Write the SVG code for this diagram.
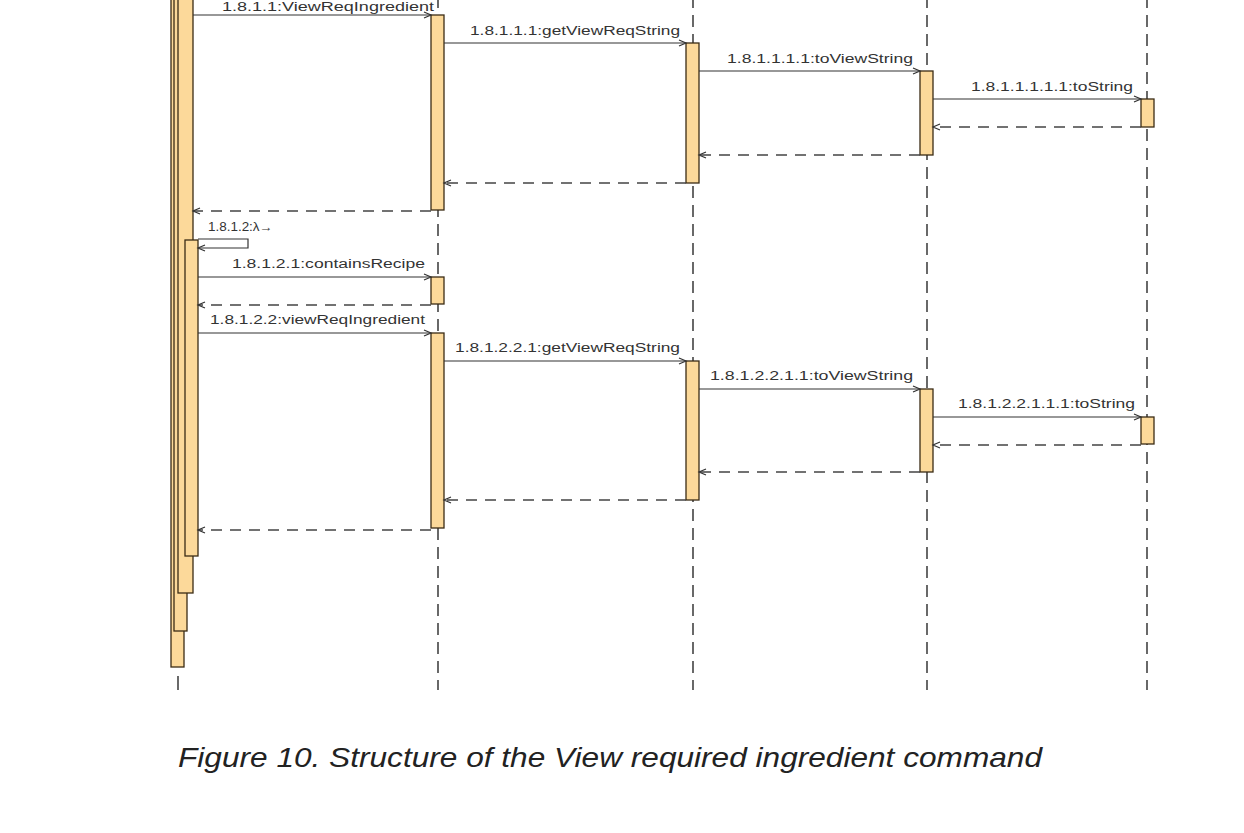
<svg xmlns="http://www.w3.org/2000/svg" width="1244" height="833" viewBox="0 0 1244 833">
<style>
.life{stroke:#444;stroke-width:1.6;stroke-dasharray:12,7;fill:none}
.act{fill:#fcd99a;stroke:#3b2c14;stroke-width:1.3}
.msg{stroke:#333;stroke-width:1.2;fill:none;marker-end:url(#open)}
.ret{stroke:#444;stroke-width:1.4;stroke-dasharray:11,8;fill:none;marker-end:url(#open)}
.lbl{font-family:"Liberation Sans",Arial,sans-serif;font-size:12px;fill:#333}
.cap{font-family:"Liberation Sans",Arial,sans-serif;font-size:28px;font-style:italic;fill:#222}
</style>
<defs>
<marker id="open" markerWidth="10" markerHeight="10" refX="8" refY="4" orient="auto" markerUnits="userSpaceOnUse">
<polyline points="1,1 8,4 1,7" fill="none" stroke="#333" stroke-width="1.2"/>
</marker>
</defs>
<rect width="1244" height="833" fill="#fff"/>
<g id="lifeline-1">
<line x1="178" y1="676" x2="178" y2="690" stroke="#444" stroke-width="1.6"/>
<rect class="act" x="171" y="-5" width="13" height="672"/>
<rect class="act" x="174" y="-5" width="13" height="636"/>
<rect class="act" x="178" y="-5" width="15" height="598"/>
<rect class="act" x="185" y="240" width="13" height="316"/>
</g>
<g id="lifeline-2">
<line class="life" x1="438" y1="-4" x2="438" y2="690"/>
<rect class="act" x="431" y="15" width="13" height="195"/>
<rect class="act" x="431" y="277" width="13" height="27"/>
<rect class="act" x="431" y="333" width="13" height="195"/>
</g>
<g id="lifeline-3">
<line class="life" x1="693" y1="-4" x2="693" y2="690"/>
<rect class="act" x="686" y="43" width="13" height="140"/>
<rect class="act" x="686" y="361" width="13" height="139"/>
</g>
<g id="lifeline-4">
<line class="life" x1="927" y1="-4" x2="927" y2="690"/>
<rect class="act" x="920" y="71" width="13" height="84"/>
<rect class="act" x="920" y="389" width="13" height="83"/>
</g>
<g id="lifeline-5">
<line class="life" x1="1147" y1="-4" x2="1147" y2="690"/>
<rect class="act" x="1141" y="99" width="13" height="28"/>
<rect class="act" x="1141" y="417" width="13" height="27"/>
</g>
<g id="connectors">
<line class="msg" x1="193" y1="15" x2="431" y2="15"/>
<line class="msg" x1="444" y1="43" x2="686" y2="43"/>
<line class="msg" x1="699" y1="71" x2="920" y2="71"/>
<line class="msg" x1="933" y1="99" x2="1141" y2="99"/>
<line class="ret" x1="1141" y1="127" x2="933" y2="127"/>
<line class="ret" x1="920" y1="155" x2="699" y2="155"/>
<line class="ret" x1="686" y1="183" x2="444" y2="183"/>
<line class="ret" x1="431" y1="211" x2="193" y2="211"/>
<polyline class="msg" points="198,239 248,239 248,248 198,248"/>
<line class="msg" x1="198" y1="277" x2="431" y2="277"/>
<line class="ret" x1="431" y1="305" x2="198" y2="305"/>
<line class="msg" x1="198" y1="333" x2="431" y2="333"/>
<line class="msg" x1="444" y1="361" x2="686" y2="361"/>
<line class="msg" x1="699" y1="389" x2="920" y2="389"/>
<line class="msg" x1="933" y1="417" x2="1141" y2="417"/>
<line class="ret" x1="1141" y1="445" x2="933" y2="445"/>
<line class="ret" x1="920" y1="472" x2="699" y2="472"/>
<line class="ret" x1="686" y1="500" x2="444" y2="500"/>
<line class="ret" x1="431" y1="530" x2="198" y2="530"/>
</g>
<g id="labels">
<text class="lbl" x="222" y="11" textLength="212" lengthAdjust="spacingAndGlyphs">1.8.1.1:ViewReqIngredient</text>
<text class="lbl" x="470" y="35" textLength="210" lengthAdjust="spacingAndGlyphs">1.8.1.1.1:getViewReqString</text>
<text class="lbl" x="727" y="63" textLength="186" lengthAdjust="spacingAndGlyphs">1.8.1.1.1.1:toViewString</text>
<text class="lbl" x="971" y="91" textLength="162" lengthAdjust="spacingAndGlyphs">1.8.1.1.1.1.1:toString</text>
<text class="lbl" x="208" y="231" textLength="65" lengthAdjust="spacingAndGlyphs">1.8.1.2:λ→</text>
<text class="lbl" x="232" y="268" textLength="193" lengthAdjust="spacingAndGlyphs">1.8.1.2.1:containsRecipe</text>
<text class="lbl" x="210" y="324" textLength="215" lengthAdjust="spacingAndGlyphs">1.8.1.2.2:viewReqIngredient</text>
<text class="lbl" x="455" y="352" textLength="225" lengthAdjust="spacingAndGlyphs">1.8.1.2.2.1:getViewReqString</text>
<text class="lbl" x="710" y="380" textLength="203" lengthAdjust="spacingAndGlyphs">1.8.1.2.2.1.1:toViewString</text>
<text class="lbl" x="958" y="408" textLength="177" lengthAdjust="spacingAndGlyphs">1.8.1.2.2.1.1.1:toString</text>
</g>
<text class="cap" x="178" y="767" textLength="864" lengthAdjust="spacingAndGlyphs">Figure 10. Structure of the View required ingredient command</text>
</svg>
